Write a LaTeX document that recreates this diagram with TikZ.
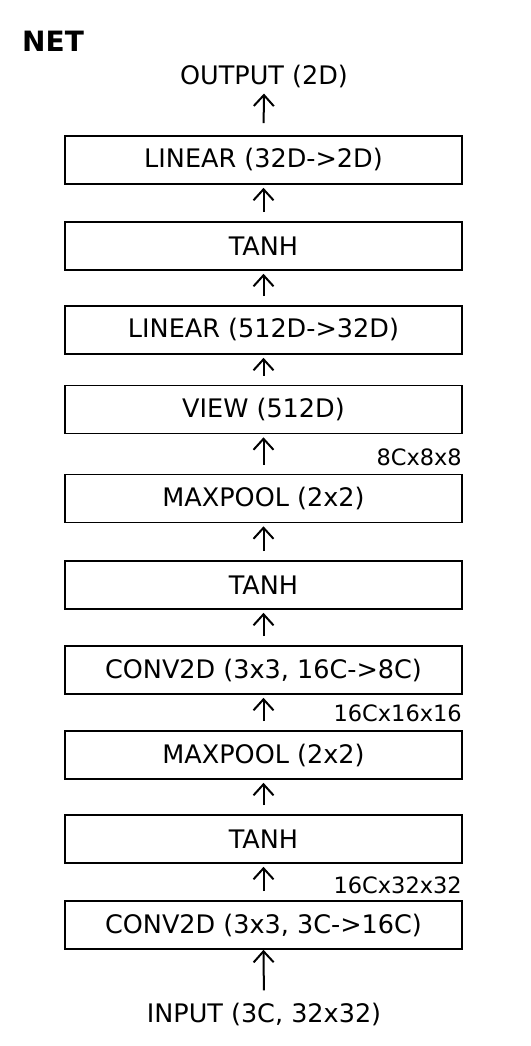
\documentclass[tikz,border=0pt]{standalone}
\usepackage{fontspec}
\setmainfont{DejaVu Sans}
\usetikzlibrary{arrows.meta}
\begin{document}
\begin{tikzpicture}[x=1pt,y=-1pt,
  layer/.style={draw=black,line width=1.6pt,minimum width=397pt,minimum height=48pt,
    inner sep=0pt,font=\fontsize{25.5}{28}\selectfont},
  io/.style={inner sep=0pt,font=\fontsize{25.5}{28}\selectfont},
  dimlabel/.style={inner sep=0pt,anchor=east,font=\fontsize{22.5}{24}\selectfont},
  flow/.style={line width=2pt,-{Straight Barb[length=11pt,width=20pt,line width=2pt]}}]
  \path[use as bounding box] (0,0) rectangle (530,1046);

  % title
  \node[inner sep=0pt,anchor=west,font=\bfseries\fontsize{28}{32}\selectfont] (title) at (22,41) {NET};

  % network layers, top to bottom
  \node[io] (out) at (264,77) {OUTPUT (2D)};
  \node[layer] (l1) at (263.5,160) {LINEAR (32D->2D)};
  \node[layer] (l2) at (263.5,246) {TANH};
  \node[layer] (l3) at (263.5,330) {LINEAR (512D->32D)};
  \node[layer] (l4) at (263.5,409.5) {VIEW (512D)};
  \node[layer] (l5) at (263.5,498.5) {MAXPOOL (2x2)};
  \node[layer] (l6) at (263.5,585) {TANH};
  \node[layer] (l7) at (263.5,670) {CONV2D (3x3, 16C->8C)};
  \node[layer] (l8) at (263.5,755) {MAXPOOL (2x2)};
  \node[layer] (l9) at (263.5,839) {TANH};
  \node[layer] (l10) at (263.5,925) {CONV2D (3x3, 3C->16C)};
  \node[io] (in) at (264,1014) {INPUT (3C, 32x32)};

  % tensor shapes
  \node[dimlabel] (d1) at (462,457) {8Cx8x8};
  \node[dimlabel] (d2) at (462,713) {16Cx16x16};
  \node[dimlabel] (d3) at (462,885) {16Cx32x32};

  % data flow
  \draw[flow,shorten <=12pt,shorten >=5pt] (l1.north) -- (out.south);
  \foreach \a/\b in {l2/l1,l3/l2,l4/l3,l5/l4,l6/l5,l7/l6,l8/l7,l9/l8,l10/l9}
    \draw[flow,shorten <=9pt,shorten >=3pt] (\a.north) -- (\b.south);
  \draw[flow,shorten <=12pt] (in.north) -- (l10.south);
\end{tikzpicture}
\end{document}
